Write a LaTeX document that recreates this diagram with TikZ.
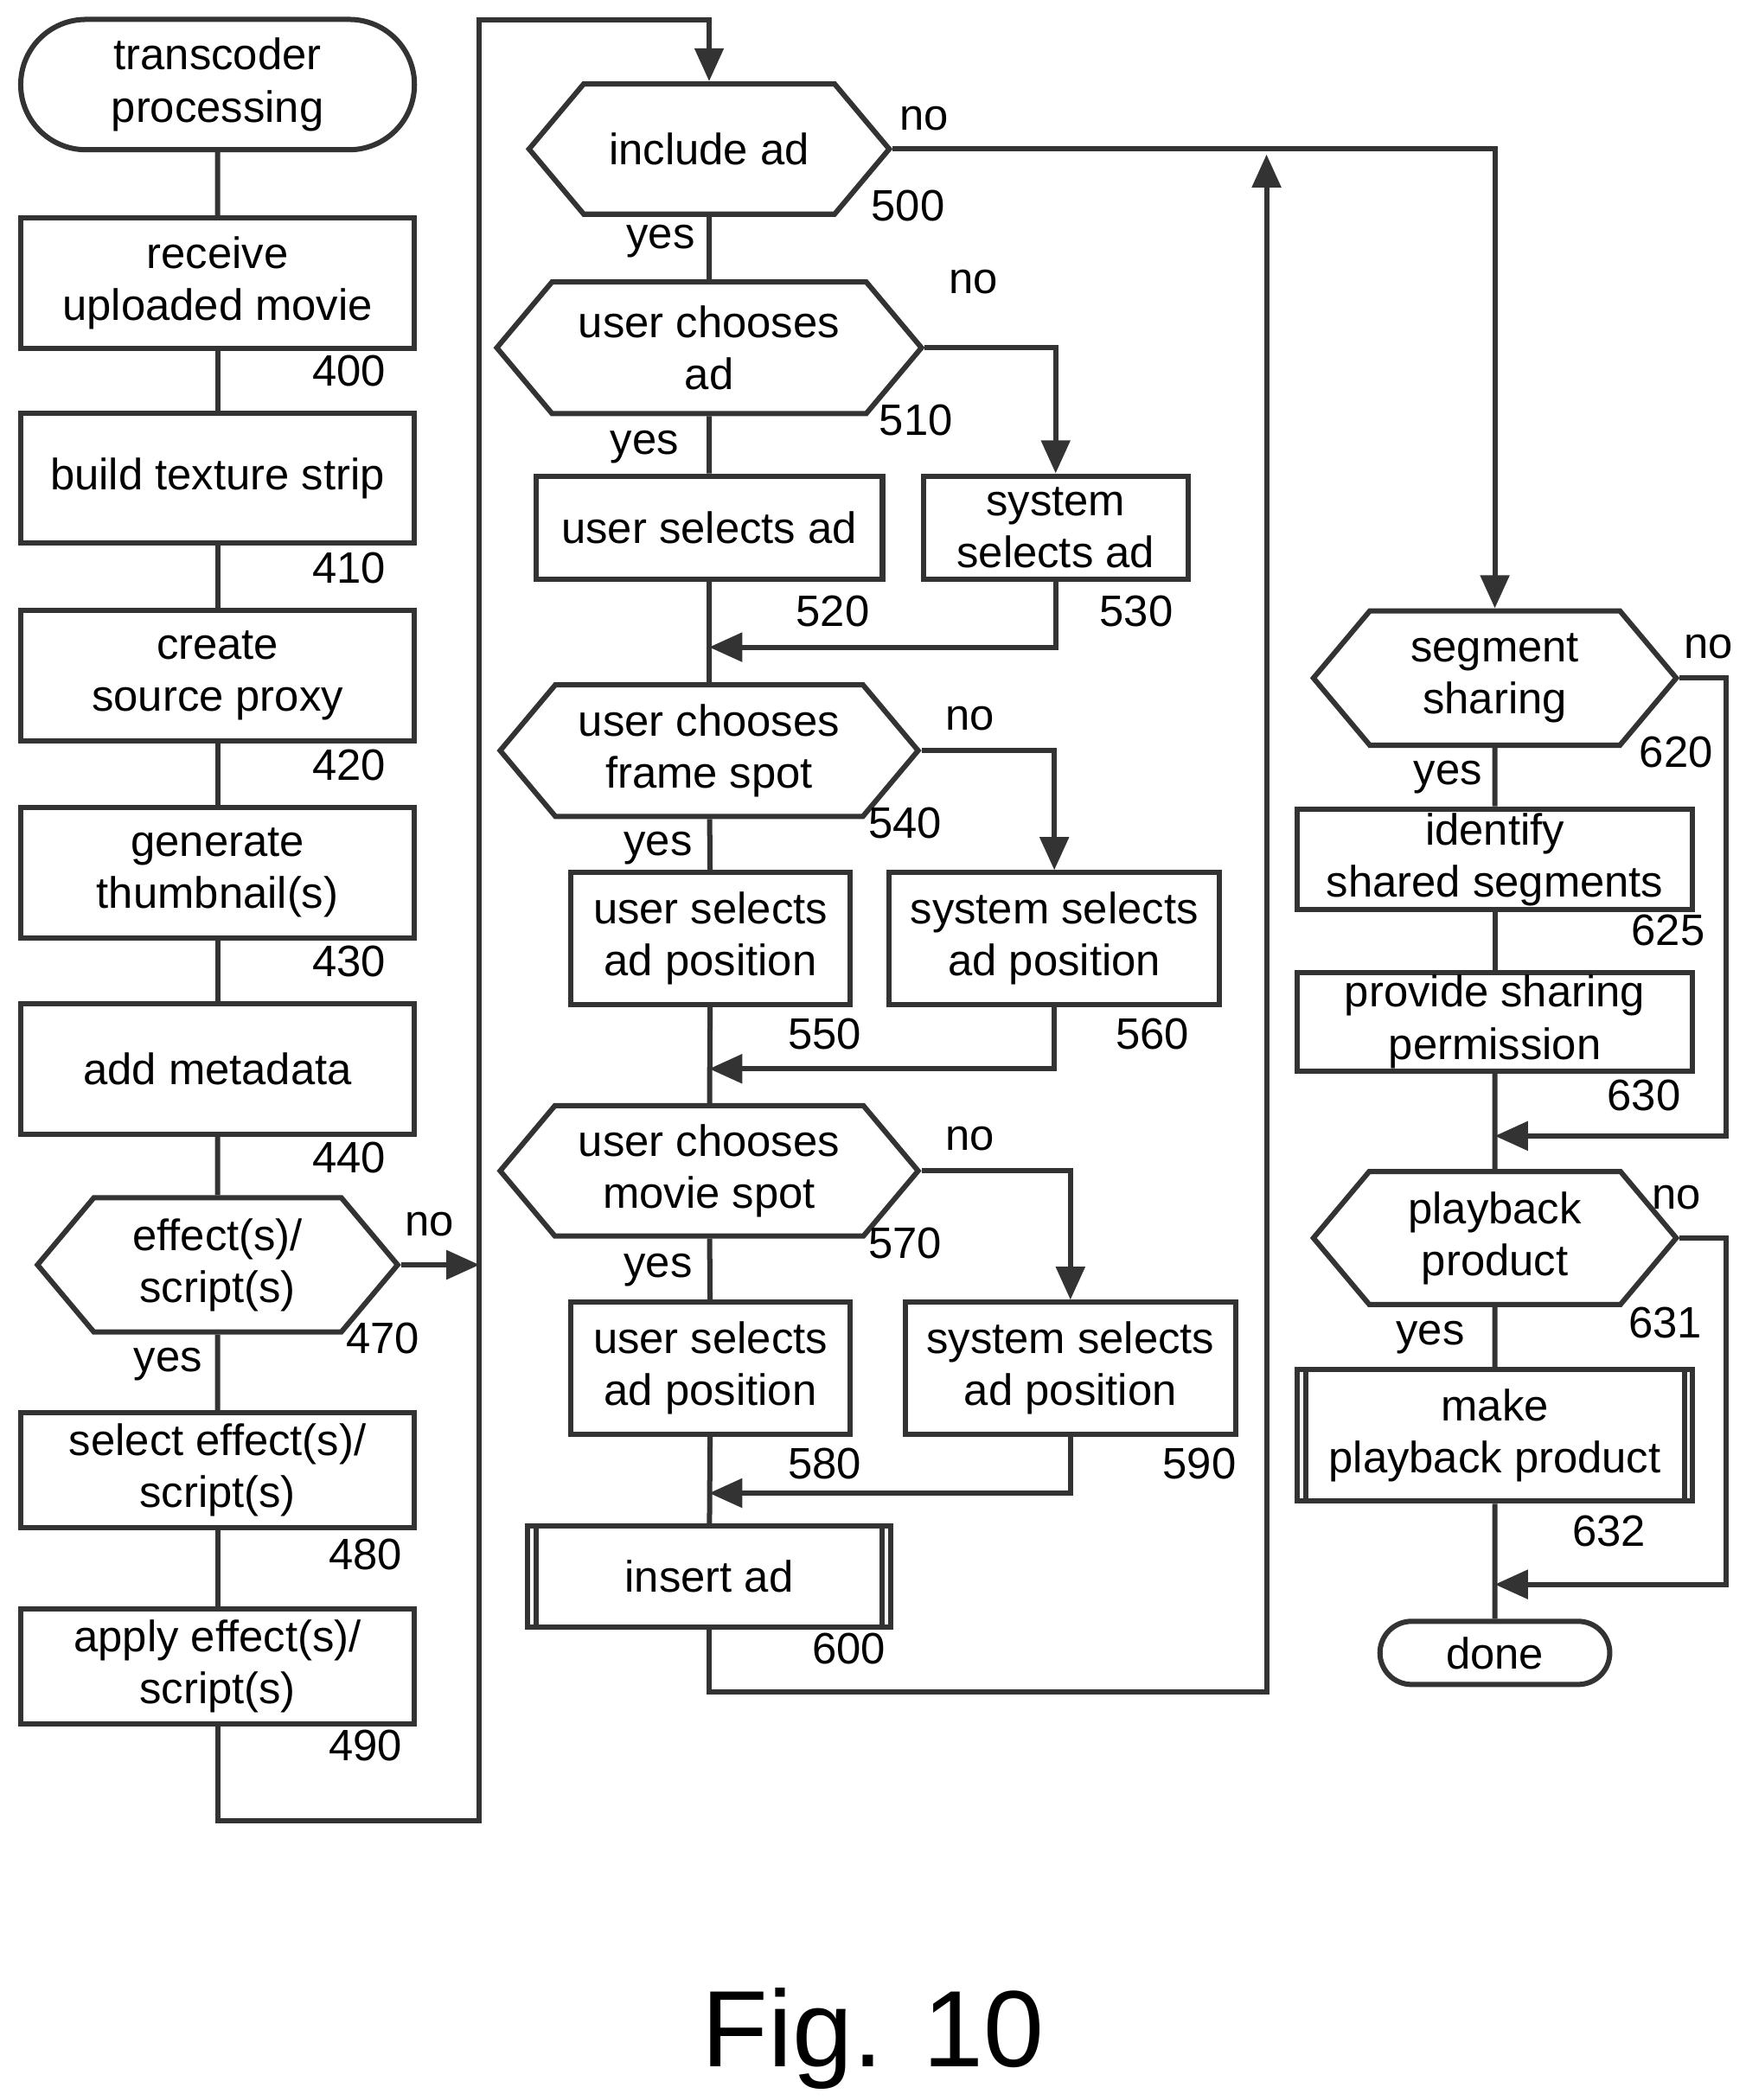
\documentclass[tikz,border=0pt]{standalone}
\usepackage{fontspec}
\setmainfont{Liberation Sans}
\usetikzlibrary{shapes.symbols,shapes.misc,arrows.meta}
\tikzset{
  flow/.style={line width=1.1pt,draw=black!80},
  box/.style={flow,rectangle,align=center,inner sep=0pt},
  term/.style={flow,rounded rectangle,align=center,inner sep=0pt},
  hex/.style={flow,signal,signal to=east and west,signal pointer angle=100,align=center,inner sep=0pt},
  proc/.style={box},
  num/.style={inner sep=0pt},
  line/.style={line width=1.1pt,draw=black!80},
  arr/.style={line,-{Triangle[width=6pt,length=7pt]}}
}
\begin{document}
\begin{tikzpicture}[x=0.01cm,y=-0.01cm,font=\fontsize{9.3}{11}\selectfont]
	   \useasboundingbox (0,0) rectangle (1300,1564);
	   % left column
	   \node [term,minimum width=2.93cm,minimum height=0.97cm] (start) at (162,63) {transcoder\\processing};
	   \node [box,minimum width=2.93cm,minimum height=0.97cm] (n400) at (162,211) {receive\\uploaded movie};
	   \node [box,minimum width=2.93cm,minimum height=0.97cm] (n410) at (162,356) {build texture strip};
	   \node [box,minimum width=2.93cm,minimum height=0.97cm] (n420) at (162,503) {create\\source proxy};
	   \node [box,minimum width=2.93cm,minimum height=0.97cm] (n430) at (162,650) {generate\\thumbnail(s)};
	   \node [box,minimum width=2.93cm,minimum height=0.97cm] (n440) at (162,796) {add metadata};
	   \node [hex,minimum width=2.68cm,minimum height=1.0cm] (n470) at (162,942) {effect(s)/\\script(s)};
	   \node [box,minimum width=2.93cm,minimum height=0.86cm] (n480) at (162,1095) {select effect(s)/\\script(s)};
	   \node [box,minimum width=2.93cm,minimum height=0.86cm] (n490) at (162,1241) {apply effect(s)/\\script(s)};
	   \node [num] (l400) at (260,276) {400};
	   \node [num] (l410) at (260,423) {410};
	   \node [num] (l420) at (260,570) {420};
	   \node [num] (l430) at (260,716) {430};
	   \node [num] (l440) at (260,862) {440};
	   \node [num] (l470) at (285,997) {470};
	   \node [num] (l480) at (272,1158) {480};
	   \node [num] (l490) at (272,1300) {490};
	   \node [num] (no470) at (320,912) {no};
	   \node [num] (yes470) at (125,1016) {yes};
	   % middle column
	   \node [hex,minimum width=2.68cm,minimum height=0.97cm] (n500) at (528,111) {include ad};
	   \node [hex,minimum width=3.16cm,minimum height=0.98cm] (n510) at (528,259) {user chooses\\ad};
	   \node [box,minimum width=2.58cm,minimum height=0.77cm] (n520) at (528,393) {user selects ad};
	   \node [box,minimum width=1.97cm,minimum height=0.77cm] (n530) at (786,393) {system\\selects ad};
	   \node [hex,minimum width=3.11cm,minimum height=0.98cm] (n540) at (528,559) {user chooses\\frame spot};
	   \node [box,minimum width=2.08cm,minimum height=0.98cm] (n550) at (529,699) {user selects\\ad position};
	   \node [box,minimum width=2.46cm,minimum height=0.98cm] (n560) at (785,699) {system selects\\ad position};
	   \node [hex,minimum width=3.11cm,minimum height=0.97cm] (n570) at (528,872) {user chooses\\movie spot};
	   \node [box,minimum width=2.08cm,minimum height=0.98cm] (n580) at (529,1019) {user selects\\ad position};
	   \node [box,minimum width=2.46cm,minimum height=0.98cm] (n590) at (797,1019) {system selects\\ad position};
	   \node [proc,minimum width=2.70cm,minimum height=0.75cm] (n600) at (528,1174) {insert ad};
	   \draw [line] ([xshift=0.08cm]n600.north west) -- ([xshift=0.08cm]n600.south west);
	   \draw [line] ([xshift=-0.08cm]n600.north east) -- ([xshift=-0.08cm]n600.south east);
	   \node [num] (l500) at (676,153) {500};
	   \node [num] (l510) at (682,313) {510};
	   \node [num] (l520) at (620,455) {520};
	   \node [num] (l530) at (846,455) {530};
	   \node [num] (l540) at (674,613) {540};
	   \node [num] (l550) at (614,770) {550};
	   \node [num] (l560) at (858,770) {560};
	   \node [num] (l570) at (674,926) {570};
	   \node [num] (l580) at (614,1090) {580};
	   \node [num] (l590) at (893,1090) {590};
	   \node [num] (l600) at (632,1228) {600};
	   \node [num] (no500) at (688,88) {no};
	   \node [num] (yes500) at (492,180) {yes};
	   \node [num] (no510) at (725,210) {no};
	   \node [num] (yes510) at (480,333) {yes};
	   \node [num] (no540) at (722,535) {no};
	   \node [num] (yes540) at (490,632) {yes};
	   \node [num] (no570) at (722,848) {no};
	   \node [num] (yes570) at (490,946) {yes};
	   % right column
	   \node [hex,minimum width=2.70cm,minimum height=1.0cm] (n620) at (1113,505) {segment\\sharing};
	   \node [box,minimum width=2.94cm,minimum height=0.75cm] (n625) at (1113,640) {identify\\shared segments};
	   \node [box,minimum width=2.94cm,minimum height=0.73cm] (n630) at (1113,761) {provide sharing\\permission};
	   \node [hex,minimum width=2.70cm,minimum height=0.99cm] (n631) at (1113,922) {playback\\product};
	   \node [proc,minimum width=2.94cm,minimum height=0.98cm] (n632) at (1113,1069) {make\\playback product};
	   \draw [line] ([xshift=0.08cm]n632.north west) -- ([xshift=0.08cm]n632.south west);
	   \draw [line] ([xshift=-0.08cm]n632.north east) -- ([xshift=-0.08cm]n632.south east);
	   \node [term,minimum width=1.71cm,minimum height=0.47cm] (done) at (1113,1231) {done};
	   \node [num] (l620) at (1248,560) {620};
	   \node [num] (l625) at (1242,693) {625};
	   \node [num] (l630) at (1224,816) {630};
	   \node [num] (l631) at (1240,985) {631};
	   \node [num] (l632) at (1198,1140) {632};
	   \node [num] (no620) at (1272,482) {no};
	   \node [num] (yes620) at (1078,579) {yes};
	   \node [num] (no631) at (1248,892) {no};
	   \node [num] (yes631) at (1065,996) {yes};
	   \node [num,font=\fontsize{23}{27}\selectfont] (fig) at (650,1518) {Fig. 10};
	   % connectors
	   \draw [line] (start) -- (n400);
	   \draw [line] (n400) -- (n410);
	   \draw [line] (n410) -- (n420);
	   \draw [line] (n420) -- (n430);
	   \draw [line] (n430) -- (n440);
	   \draw [line] (n440) -- (n470);
	   \draw [line] (n470) -- (n480);
	   \draw [line] (n480) -- (n490);
	   \coordinate (c1) at (357,942);
	   \draw [arr] (n470.east) -- (c1);
	   \draw [arr] (n490.south) |- (357,1356) -- (357,15) -| (n500.north);
	   \draw [line] (n500) -- (n510);
	   \draw [line] (n510) -- (n520);
	   \draw [arr] (n510.east) -| (n530.north);
	   \coordinate (m1) at (528,482);
	   \draw [line] (n520) -- (n540);
	   \draw [arr] (n530.south) |- (m1);
	   \draw [line] (n540) -- (n550);
	   \draw [arr] (n540.east) -| (n560.north);
	   \coordinate (m2) at (528,796);
	   \draw [line] (n550) -- (n570);
	   \draw [arr] (n560.south) |- (m2);
	   \draw [line] (n570) -- (n580);
	   \draw [arr] (n570.east) -| (n590.north);
	   \coordinate (m3) at (528,1112);
	   \draw [line] (n580) -- (n600);
	   \draw [arr] (n590.south) |- (m3);
	   \coordinate (m4) at (943,115);
	   \draw [arr] (n600.south) |- (943,1260) -- (m4);
	   \draw [arr] (n500.east) -| (n620.north);
	   \draw [line] (n620) -- (n625);
	   \draw [line] (n625) -- (n630);
	   \draw [line] (n630) -- (n631);
	   \coordinate (m5) at (1113,846);
	   \draw [arr] (n620.east) -| (1285,846) -- (m5);
	   \draw [line] (n631) -- (n632);
	   \draw [line] (n632) -- (done);
	   \coordinate (m6) at (1113,1180);
	   \draw [arr] (n631.east) -| (1285,1180) -- (m6);
\end{tikzpicture}
\end{document}
